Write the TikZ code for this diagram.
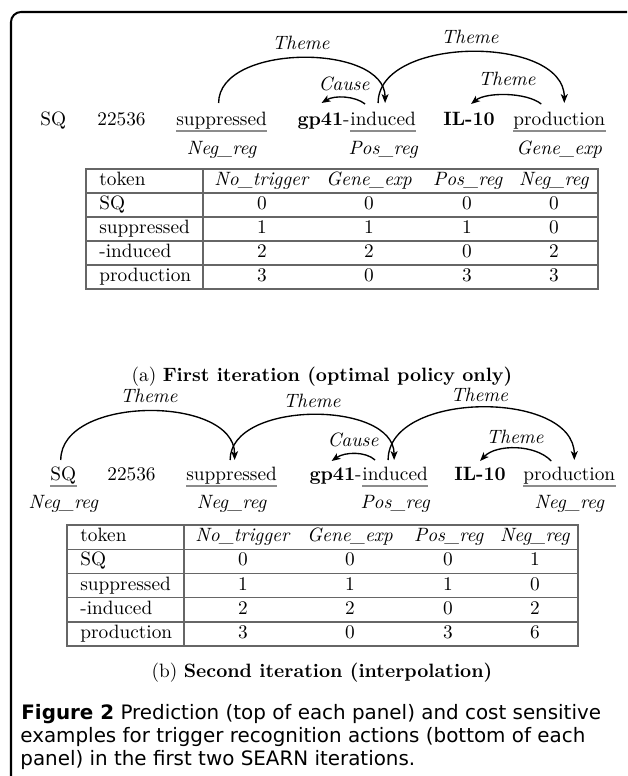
\documentclass[tikz,border=0pt]{standalone}
\usepackage{fontspec}
\newfontfamily\capfont{DejaVu Sans}
\usetikzlibrary{arrows.meta,calc}
\begin{document}
\begin{tikzpicture}[x=0.518pt,y=-0.518pt,
  wrd/.style={inner sep=0pt,anchor=base west},
  tg/.style={inner sep=0pt,anchor=base,font=\itshape},
  lb/.style={inner sep=0pt,font=\itshape},
  rel/.style={line width=0.7pt,-{Stealth[length=4.6pt,width=3.6pt,inset=1.2pt]}},
  ulin/.style={line width=1pt,black!45},
  tbl/.style={line width=0.6pt,black!60},
  cel/.style={inner sep=0pt,anchor=base},
  tk/.style={inner sep=0pt,anchor=base west},
  capt/.style={inner sep=0pt,anchor=base},
  figc/.style={inner sep=0pt,anchor=base west,font=\capfont\fontsize{10.3}{12}\selectfont},
]
\useasboundingbox (0,0) rectangle (627,776);
% frame
\draw[line width=1.05pt,rounded corners=5.2pt] (11,776) -- (11,12) -- (627,12);

% ---------- panel (a) ----------
\node[wrd] (sqa) at (40,125) {SQ};
\node[wrd] (numa) at (97,125) {22536};
\node[wrd] (suppa) at (176,125) {suppressed};
\node[wrd] (inda) at (350,125) {induced};
\node[inner sep=0pt,anchor=base east] (gpa) at (inda.base west) {\textbf{gp41}-};
\node[wrd] (ila) at (443,125) {\textbf{IL-10}};
\node[wrd] (proda) at (513,125) {production};
\draw[ulin] ($(suppa.base west)+(0,6)$) -- ($(suppa.base east)+(0,6)$);
\draw[ulin] ($(inda.base west)+(0,6)$) -- ($(inda.base east)+(0,6)$);
\draw[ulin] ($(proda.base west)+(0,6)$) -- ($(proda.base east)+(0,6)$);
\node[tg] (tsa) at ($(suppa.base)+(0,29)$) {Neg\_reg};
\node[tg] (tia) at ($(inda.base)+(0,29)$) {Pos\_reg};
\node[tg] (tpa) at ($(proda.base)+(0,29)$) {Gene\_exp};

\draw[rel] ($(suppa.base)+(-3,-22)$) .. controls +(0,-60) and +(0,-60) .. ($(inda.base)+(2,-22)$);
\draw[rel] ($(inda.base)+(-5,-22)$) .. controls +(0,-68) and +(0,-68) .. ($(proda.base)+(5,-22)$);
\draw[rel] ($(inda.base)+(-18,-21)$) .. controls +(-10,-8) and +(13,-8) .. ($(gpa.base)+(-2,-22)$);
\draw[rel] ($(proda.base)+(-18,-21)$) .. controls +(-15,-12) and +(15,-12) .. ($(ila.base)+(2,-21)$);
\node[lb] (la1) at (301,43) {Theme};
\node[lb] (la2) at (470,36.5) {Theme};
\node[lb] (la3) at (344,83.5) {Cause};
\node[lb] (la4) at (507,78.5) {Theme};

% table (a)
\draw[tbl] (86,169) rectangle (598,289);
\foreach \yy in {193,217,241,265} \draw[tbl] (86,\yy) -- (598,\yy);
\draw[tbl] (203,169) -- (203,289);
\node[tk] (ah0) at (99,185.5) {token};
\node[cel] (ah1) at (262,185.5) {\textit{No\_trigger}};
\node[cel] (ah2) at (369,185.5) {\textit{Gene\_exp}};
\node[cel] (ah3) at (468,185.5) {\textit{Pos\_reg}};
\node[cel] (ah4) at (554,185.5) {\textit{Neg\_reg}};
\foreach \r/\tok/\va/\vb/\vc/\vd in {1/SQ/0/0/0/0, 2/suppressed/1/1/1/0, 3/-induced/2/2/0/2, 4/production/3/0/3/3}{
  \pgfmathsetmacro{\bl}{185.5+24*\r}
  \node[tk] (ar\r c0) at (99,\bl) {\tok};
  \node[cel] (ar\r c1) at (262,\bl) {\va};
  \node[cel] (ar\r c2) at (369,\bl) {\vb};
  \node[cel] (ar\r c3) at (467,\bl) {\vc};
  \node[cel] (ar\r c4) at (554,\bl) {\vd};
}
\node[capt] (capa) at (322,381) {(a) \textbf{First iteration (optimal policy only)}};

% ---------- panel (b) ----------
\node[wrd] (sqb) at (50,480) {SQ};
\node[wrd] (numb) at (107,480) {22536};
\node[wrd] (suppb) at (186,480) {suppressed};
\node[wrd] (indb) at (362,480) {induced};
\node[inner sep=0pt,anchor=base east] (gpb) at (indb.base west) {\textbf{gp41}-};
\node[wrd] (ilb) at (454,480) {\textbf{IL-10}};
\node[wrd] (prodb) at (523,480) {production};
\draw[ulin] ($(sqb.base west)+(0,6)$) -- ($(sqb.base east)+(0,6)$);
\draw[ulin] ($(suppb.base west)+(0,6)$) -- ($(suppb.base east)+(0,6)$);
\draw[ulin] ($(indb.base west)+(0,6)$) -- ($(indb.base east)+(0,6)$);
\draw[ulin] ($(prodb.base west)+(0,6)$) -- ($(prodb.base east)+(0,6)$);
\node[tg] (tqb) at ($(sqb.base)+(0,28)$) {Neg\_reg};
\node[tg] (tsb) at ($(suppb.base)+(0,28)$) {Neg\_reg};
\node[tg] (tib) at ($(indb.base)+(0,28)$) {Pos\_reg};
\node[tg] (tpb) at ($(prodb.base)+(0,28)$) {Neg\_reg};

\draw[rel] ($(sqb.base)+(-2.5,-20)$) .. controls +(0,-65) and +(0,-65) .. ($(suppb.base)+(3,-20)$);
\draw[rel] ($(suppb.base)+(-1.5,-20)$) .. controls +(0,-60) and +(0,-60) .. ($(indb.base)+(-1,-20)$);
\draw[rel] ($(indb.base)+(-7,-20)$) .. controls +(0,-70) and +(0,-70) .. ($(prodb.base)+(5,-20)$);
\draw[rel] ($(indb.base)+(-20,-20)$) .. controls +(-10,-9) and +(13,-9) .. ($(gpb.base)+(-4,-19)$);
\draw[rel] ($(prodb.base)+(-18,-19)$) .. controls +(-16,-17) and +(16,-17) .. ($(ilb.base)+(0,-19)$);
\node[lb] (lb1) at (149,396) {Theme};
\node[lb] (lb2) at (312,401) {Theme};
\node[lb] (lb3) at (479.5,395) {Theme};
\node[lb] (lb4) at (353,440) {Cause};
\node[lb] (lb5) at (515,436.5) {Theme};

% table (b)
\draw[tbl] (67,525) rectangle (578,646);
\foreach \yy in {549.25,573.5,597.75,622} \draw[tbl] (67,\yy) -- (578,\yy);
\draw[tbl] (184,525) -- (184,646);
\node[tk] (bh0) at (80,541.5) {token};
\node[cel] (bh1) at (243,541.5) {\textit{No\_trigger}};
\node[cel] (bh2) at (350,541.5) {\textit{Gene\_exp}};
\node[cel] (bh3) at (449,541.5) {\textit{Pos\_reg}};
\node[cel] (bh4) at (535,541.5) {\textit{Neg\_reg}};
\foreach \r/\tok/\va/\vb/\vc/\vd in {1/SQ/0/0/0/1, 2/suppressed/1/1/1/0, 3/-induced/2/2/0/2, 4/production/3/0/3/6}{
  \pgfmathsetmacro{\bl}{541.5+24.25*\r}
  \node[tk] (br\r c0) at (80,\bl) {\tok};
  \node[cel] (br\r c1) at (243,\bl) {\va};
  \node[cel] (br\r c2) at (350,\bl) {\vb};
  \node[cel] (br\r c3) at (448,\bl) {\vc};
  \node[cel] (br\r c4) at (535,\bl) {\vd};
}
\node[capt] (capb) at (322,677) {(b) \textbf{Second iteration (interpolation)}};

% ---------- figure caption ----------
\node[figc] (f1) at (21,719.5) {\textbf{Figure 2} Prediction (top of each panel) and cost sensitive};
\node[figc] (f2) at (20,742.5) {examples for trigger recognition actions (bottom of each};
\node[figc] (f3) at (20,765.5) {panel) in the first two SEARN iterations.};
\end{tikzpicture}
\end{document}
